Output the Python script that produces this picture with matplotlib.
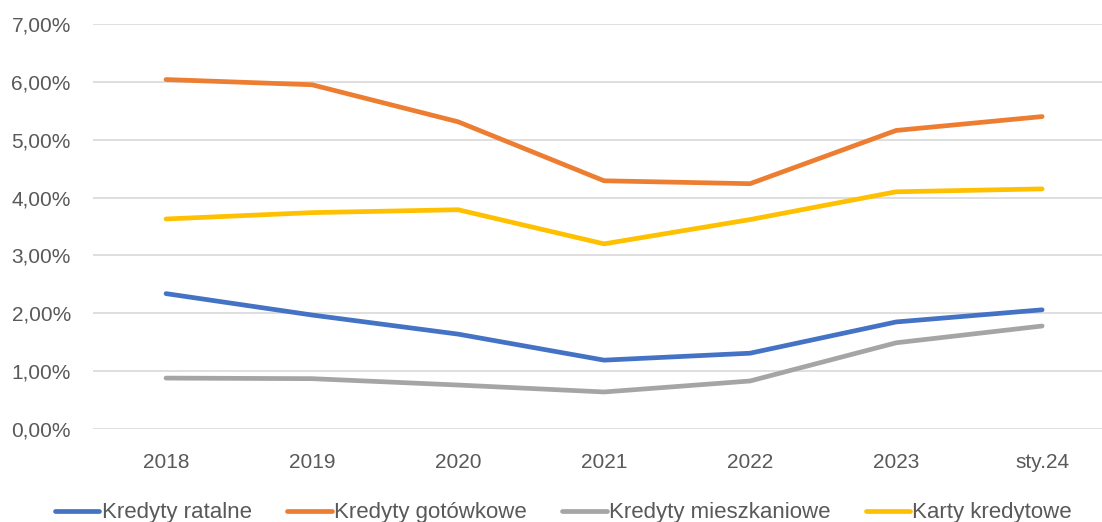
import matplotlib.pyplot as plt
from matplotlib.ticker import FuncFormatter

# Data
categories = ['2018', '2019', '2020', '2021', '2022', '2023', 'sty.24']
ratalne = [2.34, 1.97, 1.64, 1.19, 1.31, 1.85, 2.06]
gotowkowe = [6.04, 5.95, 5.31, 4.29, 4.24, 5.16, 5.40]
mieszkaniowe = [0.88, 0.87, 0.76, 0.64, 0.83, 1.49, 1.78]
karty = [3.63, 3.74, 3.79, 3.20, 3.62, 4.10, 4.15]

series = [
    ('Kredyty ratalne', ratalne, '#4472C4'),
    ('Kredyty gotówkowe', gotowkowe, '#ED7D31'),
    ('Kredyty mieszkaniowe', mieszkaniowe, '#A5A5A5'),
    ('Karty kredytowe', karty, '#FFC000'),
]

plt.rcParams['font.family'] = ['Liberation Sans', 'DejaVu Sans']

fig = plt.figure(figsize=(11.02, 5.22), dpi=100)
ax = fig.add_axes([93 / 1102, 1 - 429 / 522, 1 - 93 / 1102, (429 - 24) / 522])

x = range(len(categories))
for name, vals, col in series:
    ax.plot(x, vals, color=col, linewidth=3.4, label=name, solid_capstyle='round')

ax.set_ylim(0, 7)
ax.set_xlim(-0.5, 6.41)
ax.set_yticks(range(8))
ax.yaxis.set_major_formatter(FuncFormatter(lambda v, p: f'{v:.2f}%'.replace('.', ',')))
ax.set_xticks(list(x))
ax.set_xticklabels(categories)
ax.grid(axis='y', color='#D9D9D9', linewidth=1.2)
ax.set_axisbelow(True)
for s in ax.spines.values():
    s.set_visible(False)
ax.tick_params(length=0, labelsize=15, colors='#595959')
ax.tick_params(axis='x', pad=17)
ax.tick_params(axis='y', pad=16)

ax.legend(loc='lower center', bbox_to_anchor=(0.5 - 34 / 1009, -0.255), ncol=4, frameon=False,
          fontsize=16, labelcolor='#595959', handlelength=2.0, handletextpad=0.1,
          columnspacing=1.6, borderaxespad=0)

fig.savefig('out.png', dpi=100)
